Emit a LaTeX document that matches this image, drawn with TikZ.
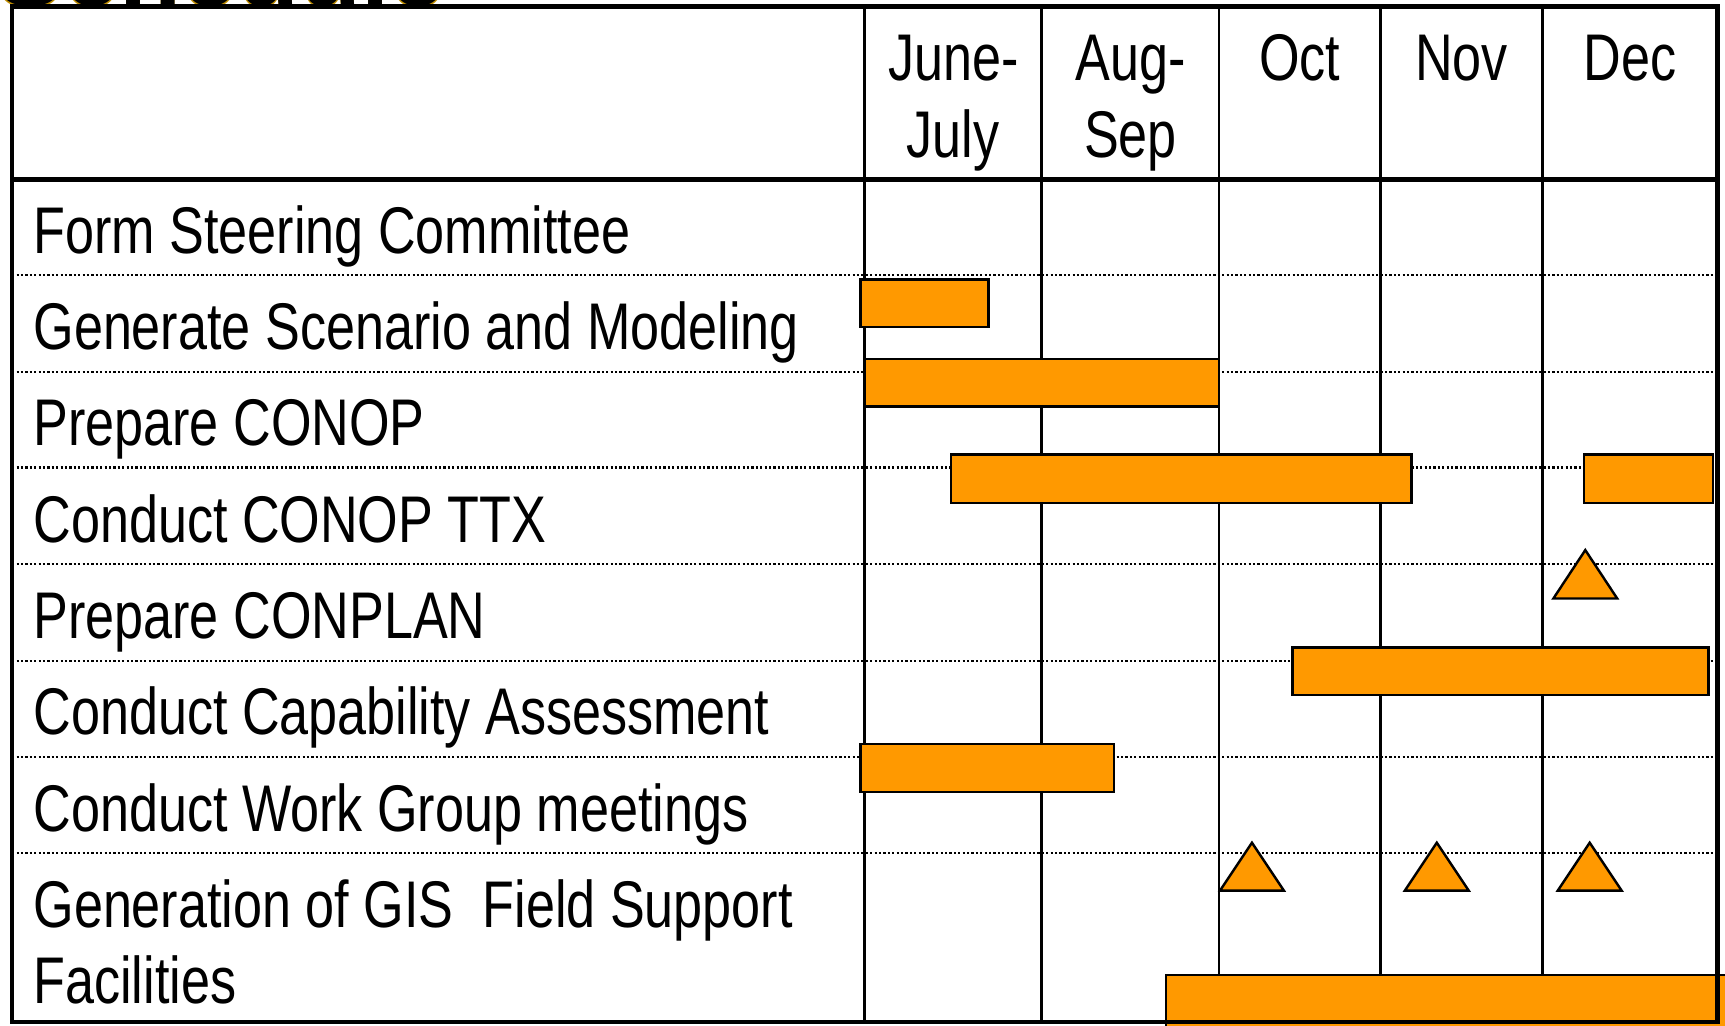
\documentclass[tikz,border=0pt]{standalone}
\usepackage{fontspec}
\setmainfont[FakeStretch=0.79]{Liberation Sans}
\newfontfamily\titlefont{Liberation Sans}
\definecolor{barorange}{RGB}{255,153,0}
\definecolor{titlegold}{RGB}{190,140,0}
\tikzset{
  lbl/.style={anchor=base west, inner sep=0pt, font=\fontsize{30pt}{35pt}\selectfont},
  hdr/.style={anchor=base, inner sep=0pt, font=\fontsize{30pt}{35pt}\selectfont},
  bar/.style={draw=black, line width=1.1pt, fill=barorange},
  mile/.style={draw=black, line width=1.1pt, fill=barorange, line join=miter},
  rowsep/.style={line width=1pt, dash pattern=on 1pt off 1pt},
  colsep/.style={line width=1.3pt},
  frame/.style={line width=2pt},
}
\begin{document}
\begin{tikzpicture}[x=0.5pt,y=-0.5pt]
\useasboundingbox (0,0) rectangle (1568,932);
\clip (0,0) rectangle (1568,932);
% partially visible title
\node[anchor=base west, inner sep=0pt, font=\titlefont\bfseries\fontsize{46pt}{50pt}\selectfont, text=titlegold] (title) at (-4,7) {Schedule};
\node[anchor=base west, inner sep=0pt, font=\titlefont\bfseries\fontsize{46pt}{50pt}\selectfont, text=black] (titleshadow) at (-4,5) {Schedule};
\fill[white] (0,6) rectangle (1568,932);
% dotted row separators
\foreach \yy in {250,338,425,513,601,688,775}
  \draw[rowsep] (11,\yy) -- (1561,\yy);
% column separators
\foreach \xx in {786,947,1108,1255,1402}
  \draw[colsep] (\xx,4) -- (\xx,930);
% header line and frame
\draw[frame] (11,163) -- (1561,163);
\draw[frame] (11,6) rectangle (1561,929);
% headers
\node[hdr] (h1a) at (866.5,73) {June-};
\node[hdr] (h1b) at (866.5,143) {July};
\node[hdr] (h2a) at (1027.5,73) {Aug-};
\node[hdr] (h2b) at (1027.5,143) {Sep};
\node[hdr] (h3) at (1181.5,73) {Oct};
\node[hdr] (h4) at (1328.5,73) {Nov};
\node[hdr] (h5) at (1481.5,73) {Dec};
% row labels
\node[lbl] (r1) at (30,230) {Form Steering Committee};
\node[lbl] (r2) at (30,318) {Generate Scenario and Modeling};
\node[lbl] (r3) at (30,405) {Prepare CONOP};
\node[lbl] (r4) at (30,493) {Conduct CONOP TTX};
\node[lbl] (r5) at (30,580) {Prepare CONPLAN};
\node[lbl] (r6) at (30,668) {Conduct Capability Assessment};
\node[lbl] (r7) at (30,756) {Conduct Work Group meetings};
\node[lbl] (r8a) at (30,843) {Generation of GIS \ Field Support};
\node[lbl] (r8b) at (30,912) {Facilities};
% bars
\draw[bar] (782,254) rectangle (898.5,297);
\draw[bar] (786,326.5) rectangle (1108,369.5);
\draw[bar] (864.5,413) rectangle (1283,457);
\draw[bar] (1440,413) rectangle (1557,457);
\draw[bar] (1175,588.5) rectangle (1553,631.5);
\draw[bar] (782,676.5) rectangle (1012.5,720);
\draw[bar] (1060,886) rectangle (1570,940);
% milestones
\draw[mile] (1441,500) -- (1470,544) -- (1412,544) -- cycle;
\draw[mile] (1138,766) -- (1167,809.5) -- (1109,809.5) -- cycle;
\draw[mile] (1306,766) -- (1335,809.5) -- (1277,809.5) -- cycle;
\draw[mile] (1445,766) -- (1474,809.5) -- (1416,809.5) -- cycle;
\draw[frame] (11,6) -- (11,929) -- (1561,929) -- (1561,6);
\end{tikzpicture}
\end{document}
